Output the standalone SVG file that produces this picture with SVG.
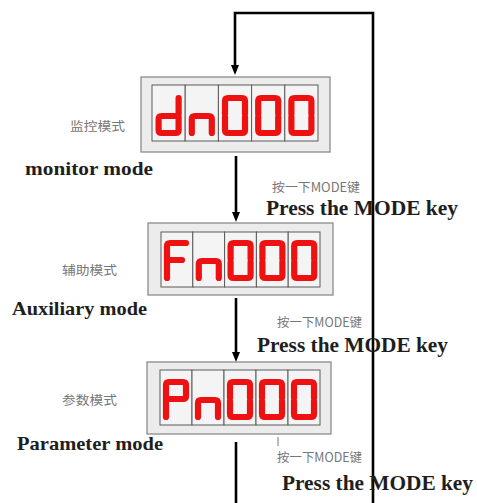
<svg xmlns="http://www.w3.org/2000/svg" width="477" height="503" viewBox="0 0 477 503">
<style>
.frame{fill:#ececec;stroke:#8c8c8c;stroke-width:1.3}
.cell{fill:#f4f4f4;stroke:#5a5a5a;stroke-width:1}
.seg{fill:none;stroke:#ee1111;stroke-width:6.2;stroke-linecap:round;stroke-linejoin:round}
.cn{font-family:"Noto Sans CJK SC","Noto Sans CJK JP",sans-serif;font-size:12.5px;fill:#777}
.en{font-family:"Liberation Serif",serif;font-weight:bold;fill:#1e1e1e}
.wire{fill:none;stroke:#000;stroke-width:2.6}
</style>
<defs>
<marker id="ah" viewBox="0 0 10 8" refX="3" refY="4" markerWidth="10" markerHeight="8" markerUnits="userSpaceOnUse" orient="auto">
<path d="M0,0 L10,4 L0,8 z" fill="#000"/>
</marker>
<g id="d0"><path class="seg" d="M3,19 V6 Q3,3 6,3 H20 Q23,3 23,6 V19 M3,22 V35 Q3,38 6,38 H20 Q23,38 23,35 V22"/></g>
<g id="dd"><path class="seg" d="M23,3 V19 M23,22 V35 Q23,38 20,38 H6 Q3,38 3,35 V24 Q3,21 6,21 H19"/></g>
<g id="dn"><path class="seg" d="M3,38 V24 Q3,21 6,21 H20 Q23,21 23,24 V38"/></g>
<g id="dF"><path class="seg" d="M3,38 V6 Q3,3 6,3 H22 M6,20 H18"/></g>
<g id="dP"><path class="seg" d="M3,38 V6 Q3,3 6,3 H20 Q23,3 23,6 V17 Q23,20 20,20 H6"/></g>
</defs>

<g id="connectors">
<path class="wire" d="M373,503 V13 H235 V68" marker-end="url(#ah)"/>
<path class="wire" d="M236,156 V215" marker-end="url(#ah)"/>
<path class="wire" d="M236,298 V355" marker-end="url(#ah)"/>
<path class="wire" d="M236,442 V503"/>
<path d="M278,437 V446" stroke="#777" stroke-width="1" fill="none"/>
</g>

<g id="monitor">
<rect class="frame" x="141" y="77" width="189" height="75"/>
<rect class="cell" x="152" y="85" width="33.2" height="56"/>
<rect class="cell" x="185.2" y="85" width="33.2" height="56"/>
<rect class="cell" x="218.4" y="85" width="33.2" height="56"/>
<rect class="cell" x="251.6" y="85" width="33.2" height="56"/>
<rect class="cell" x="284.8" y="85" width="33.2" height="56"/>
<use href="#dd" x="155.6" y="95"/>
<use href="#dn" x="188.8" y="95"/>
<use href="#d0" x="222" y="95"/>
<use href="#d0" x="255.2" y="95"/>
<use href="#d0" x="288.4" y="95"/>
<text class="cn" x="70" y="131" textLength="55" lengthAdjust="spacingAndGlyphs">监控模式</text>
<text class="en" x="25" y="175" font-size="19" textLength="128" lengthAdjust="spacingAndGlyphs">monitor mode</text>
</g>

<g id="press1">
<text class="cn" x="272" y="192" textLength="88" lengthAdjust="spacingAndGlyphs">按一下MODE键</text>
<text class="en" x="266" y="215" font-size="20" textLength="192" lengthAdjust="spacingAndGlyphs">Press the MODE key</text>
</g>

<g id="auxiliary">
<rect class="frame" x="148" y="223" width="185" height="72"/>
<rect class="cell" x="161" y="232" width="31.8" height="55"/>
<rect class="cell" x="192.8" y="232" width="31.8" height="55"/>
<rect class="cell" x="224.6" y="232" width="31.8" height="55"/>
<rect class="cell" x="256.4" y="232" width="31.8" height="55"/>
<rect class="cell" x="288.2" y="232" width="31.8" height="55"/>
<use href="#dF" x="164" y="240"/>
<use href="#dn" x="195.8" y="240"/>
<use href="#d0" x="227.6" y="240"/>
<use href="#d0" x="259.4" y="240"/>
<use href="#d0" x="291.2" y="240"/>
<text class="cn" x="62" y="275" textLength="55" lengthAdjust="spacingAndGlyphs">辅助模式</text>
<text class="en" x="12" y="315" font-size="19" textLength="135" lengthAdjust="spacingAndGlyphs">Auxiliary mode</text>
</g>

<g id="press2">
<text class="cn" x="277" y="327" textLength="85" lengthAdjust="spacingAndGlyphs">按一下MODE键</text>
<text class="en" x="257" y="352" font-size="20" textLength="191" lengthAdjust="spacingAndGlyphs">Press the MODE key</text>
</g>

<g id="parameter">
<rect class="frame" x="147" y="362" width="184" height="72"/>
<rect class="cell" x="160" y="370" width="32" height="55"/>
<rect class="cell" x="192" y="370" width="32" height="55"/>
<rect class="cell" x="224" y="370" width="32" height="55"/>
<rect class="cell" x="256" y="370" width="32" height="55"/>
<rect class="cell" x="288" y="370" width="32" height="55"/>
<use href="#dP" x="163" y="379"/>
<use href="#dn" x="195" y="379"/>
<use href="#d0" x="227" y="379"/>
<use href="#d0" x="259" y="379"/>
<use href="#d0" x="291" y="379"/>
<text class="cn" x="62" y="405" textLength="55" lengthAdjust="spacingAndGlyphs">参数模式</text>
<text class="en" x="17" y="450" font-size="19" textLength="146" lengthAdjust="spacingAndGlyphs">Parameter mode</text>
</g>

<g id="press3">
<text class="cn" x="277" y="462" textLength="85" lengthAdjust="spacingAndGlyphs">按一下MODE键</text>
<text class="en" x="282" y="490" font-size="20" textLength="191" lengthAdjust="spacingAndGlyphs">Press the MODE key</text>
</g>
</svg>
